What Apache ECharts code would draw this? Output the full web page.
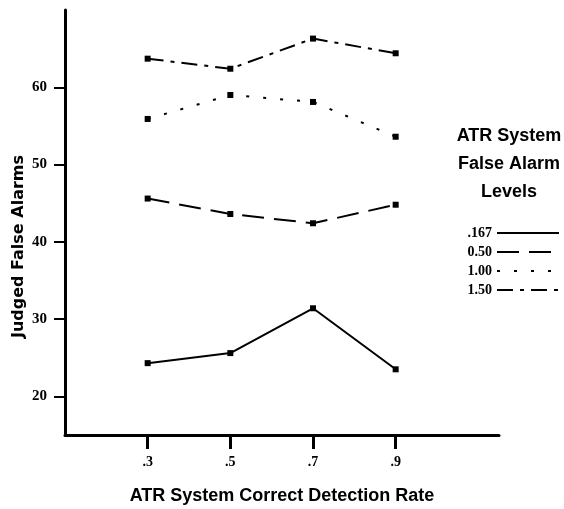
<!DOCTYPE html>
<html>
<head>
<meta charset="utf-8">
<script src="https://cdn.jsdelivr.net/npm/echarts@6/dist/echarts.min.js"></script>
<style>
  html, body { margin: 0; padding: 0; background: #fff; }
  #chart { width: 564px; height: 509px; }
</style>
</head>
<body>
<div id="chart"></div>
<script>
// Detection rates on the x axis
const detectionRates = [0.3, 0.5, 0.7, 0.9];
const xTickLabels = ['.3', '.5', '.7', '.9'];
const yTicks = [20, 30, 40, 50, 60];

// Judged false alarms for each ATR false-alarm level
const level167 = [24.3, 25.6, 31.4, 23.5];
const level050 = [45.6, 43.6, 42.4, 44.8];
const level100 = [55.9, 59.0, 58.1, 53.6];
const level150 = [63.7, 62.4, 66.3, 64.4];

const levelNames = ['.167', '0.50', '1.00', '1.50'];
const levelValues = [level167, level050, level100, level150];
const dashTypes = ['solid', [22, 10], [3, 14], [16, 7, 4, 7]];

const series = levelNames.map((name, i) => ({
  name: name,
  type: 'line',
  data: detectionRates.map((x, j) => [x, levelValues[i][j]]),
  symbol: 'rect',
  symbolSize: 6,
  itemStyle: { color: '#000' },
  lineStyle: { color: '#000', width: 2, type: dashTypes[i] },
  animation: false
}));

const chart = echarts.init(document.getElementById('chart'));
chart.setOption({
  backgroundColor: '#fff',
  animation: false,
  grid: { left: 65, top: 10, right: 65, bottom: 74, outerBoundsMode: 'none' },
  title: {
    text: 'ATR System\nFalse Alarm\nLevels',
    left: 504,
    top: 117,
    textAlign: 'center',
    textStyle: {
      fontFamily: 'Liberation Sans, Arial, sans-serif',
      fontWeight: 'bold',
      fontSize: 18,
      lineHeight: 28,
      color: '#000'
    }
  },
  legend: {
    orient: 'vertical',
    right: 4,
    top: 226,
    padding: 0,
    align: 'right',
    itemWidth: 62,
    itemHeight: 12,
    itemGap: 5,
    itemStyle: { opacity: 0 },
    textStyle: {
      fontFamily: 'Liberation Serif, Times New Roman, serif',
      fontWeight: 'bold',
      fontSize: 14,
      color: '#000'
    },
    data: levelNames
  },
  xAxis: {
    type: 'value',
    min: 0.1,
    max: 1.15,
    name: 'ATR System Correct Detection Rate',
    nameLocation: 'middle',
    nameGap: 52,
    nameTextStyle: {
      fontFamily: 'Liberation Sans, Arial, sans-serif',
      fontWeight: 'bold',
      fontSize: 18,
      color: '#000'
    },
    axisLine: { lineStyle: { color: '#000', width: 3 } },
    axisTick: { show: true, customValues: detectionRates, length: 14, lineStyle: { color: '#000', width: 3 } },
    axisLabel: {
      customValues: detectionRates,
      formatter: v => xTickLabels[detectionRates.findIndex(d => Math.abs(d - v) < 1e-6)],
      margin: 20,
      fontFamily: 'Liberation Serif, Times New Roman, serif',
      fontWeight: 'bold',
      fontSize: 14,
      color: '#000'
    },
    splitLine: { show: false }
  },
  yAxis: {
    type: 'value',
    min: 15,
    max: 70,
    name: 'Judged False Alarms',
    nameLocation: 'middle',
    nameGap: 38,
    nameMoveOverlap: false,
    nameRotate: 90,
    nameTextStyle: {
      fontFamily: 'DejaVu Sans, sans-serif',
      fontWeight: 'bold',
      fontSize: 16,
      color: '#000',
      padding: [0, 48, 0, 0]
    },
    axisLine: { show: true, lineStyle: { color: '#000', width: 3 } },
    axisTick: { show: true, customValues: yTicks, length: 11, lineStyle: { color: '#000', width: 2 } },
    axisLabel: {
      customValues: yTicks,
      margin: 18,
      fontFamily: 'Liberation Serif, Times New Roman, serif',
      fontWeight: 'bold',
      fontSize: 15,
      color: '#000'
    },
    splitLine: { show: false }
  },
  series: series
});
</script>
</body>
</html>
